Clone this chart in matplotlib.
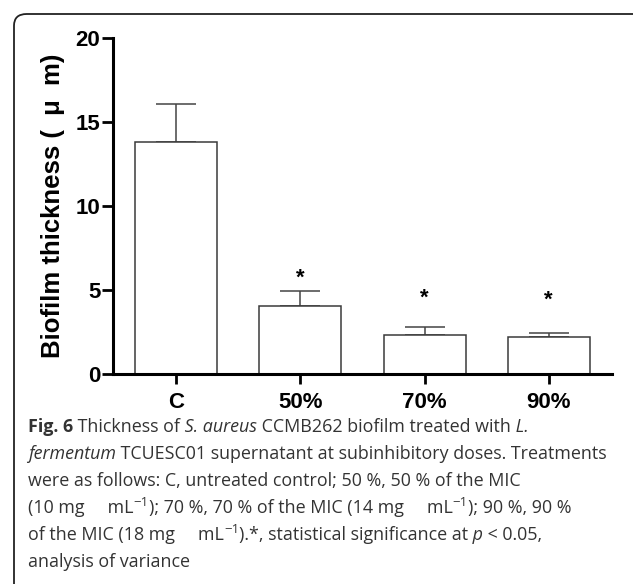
import matplotlib.pyplot as plt
from matplotlib.patches import FancyBboxPatch
import numpy as np

groups = ['C', '50%', '70%', '90%']
thickness = [13.8, 4.05, 2.32, 2.22]
err = [2.25, 0.9, 0.45, 0.2]
significant = [False, True, True, True]
star_y = [None, 5.7, 4.5, 4.4]
yticks = [0, 5, 10, 15, 20]

# caption lines as (text, style) pieces: n = normal, i = italic, b = bold, s = superscript
sup = ("\u22121", 's')
caption = [
    [("Fig. 6", 'b'), (" Thickness of", 'n'), (" S. aureus", 'i'),
     (" CCMB262 biofilm treated with", 'n'), (" L.", 'i')],
    [("fermentum", 'i'), (" TCUESC01 supernatant at subinhibitory doses. Treatments", 'n')],
    [("were as follows: C, untreated control; 50 %, 50 % of the MIC", 'n')],
    [("(10 mg     mL", 'n'), sup, ("); 70 %, 70 % of the MIC (14 mg     mL", 'n'), sup,
     ("); 90 %, 90 %", 'n')],
    [("of the MIC (18 mg     mL", 'n'), sup, (").*, statistical significance at", 'n'),
     (" p", 'i'), (" < 0.05,", 'n')],
    [("analysis of variance", 'n')],
]
styles = {'n': dict(), 'i': dict(fontstyle='italic'), 'b': dict(fontweight='bold'),
          's': dict(fontsize=9.5)}

W, H = 633, 584
fig = plt.figure(figsize=(W / 100, H / 100), dpi=100)

# rounded frame around figure + caption
frame = FancyBboxPatch((14 / W, -0.1), 1.2, 1 - 14 / H + 0.1,
                       boxstyle="round,pad=0,rounding_size=0.02",
                       transform=fig.transFigure, fill=False,
                       edgecolor='#222222', linewidth=1.3, clip_on=False)
fig.add_artist(frame)

ax = fig.add_axes([113 / W, 1 - 374 / H, (612 - 113) / W, (374 - 38) / H])
x = np.arange(len(groups))
ax.bar(x, thickness, width=0.66, color='white', edgecolor='#3a3a3a', linewidth=1.1, zorder=2)
ax.errorbar(x, thickness, yerr=[np.zeros(len(err)), err], fmt='none',
            ecolor='#444444', elinewidth=1.1, capsize=14.5, capthick=1.1, zorder=1)
for xi, sig, sy in zip(x, significant, star_y):
    if sig:
        ax.text(xi, sy, '*', ha='center', va='center', fontsize=16,
                fontweight='bold', family='Liberation Sans')

ax.set_xlim(-0.51, 3.51)
ax.set_ylim(0, 20)
ax.set_yticks(yticks)
ax.set_xticks(x)
ax.set_xticklabels(groups)
for s in ['top', 'right']:
    ax.spines[s].set_visible(False)
for s in ['left', 'bottom']:
    ax.spines[s].set_linewidth(2.2)
ax.tick_params(axis='y', length=8, width=2, labelsize=16, pad=1)
ax.tick_params(axis='x', length=7, width=2, labelsize=16, pad=6)
for lab in ax.get_xticklabels() + ax.get_yticklabels():
    lab.set_fontweight('bold')
    lab.set_family('Liberation Sans')
ax.set_ylabel('Biofilm thickness (  \u03bc  m)', fontsize=18.5, fontweight='bold',
              family='Liberation Sans', labelpad=8)

# caption, piece by piece on a shared baseline
renderer = fig.canvas.get_renderer()
base0 = 432
for i, pieces in enumerate(caption):
    xpos = 28
    for txt, st in pieces:
        kw = dict(fontsize=12.9)
        kw.update(styles[st])
        yb = base0 + 27 * i - (7 if st == 's' else 0)
        t = fig.text(xpos / W, 1 - yb / H, txt, family=['Open Sans', 'DejaVu Sans'],
                     color='#333333', ha='left', va='baseline', **kw)
        xpos += t.get_window_extent(renderer).width

fig.savefig('out.png', dpi=100)
